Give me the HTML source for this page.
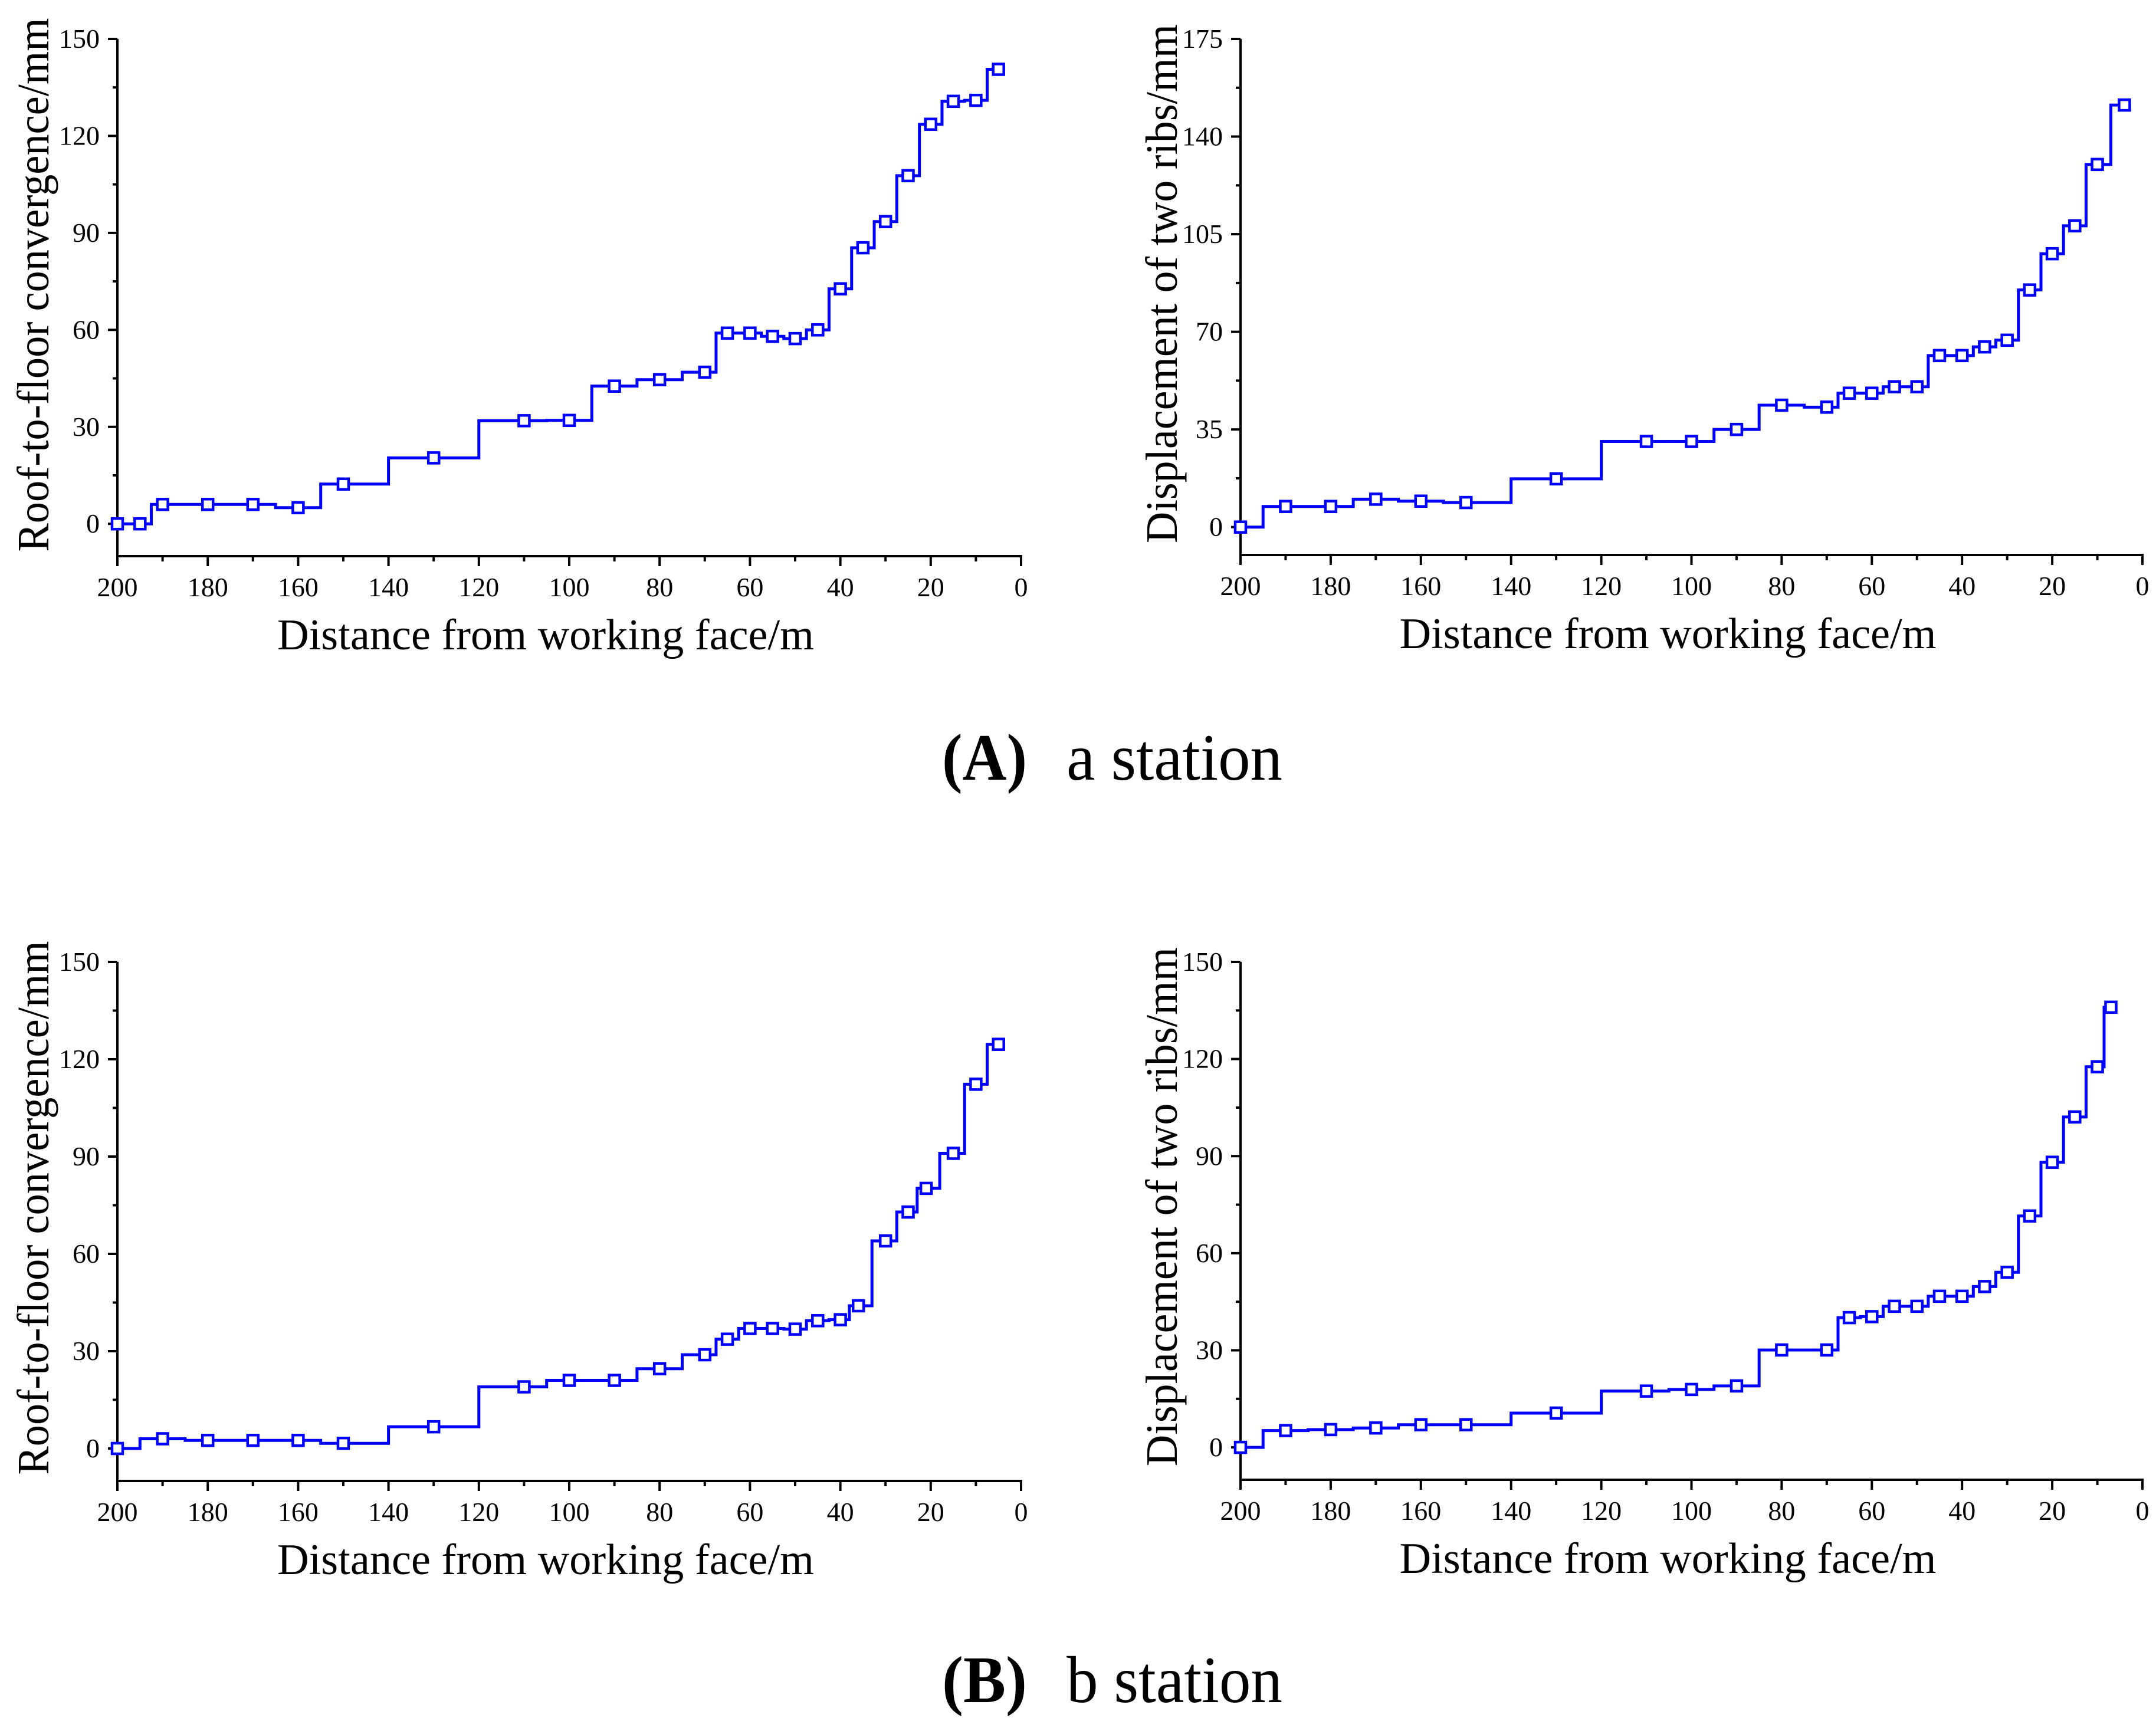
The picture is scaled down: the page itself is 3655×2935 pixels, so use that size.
<!DOCTYPE html>
<html><head><meta charset="utf-8"><style>
html,body{margin:0;padding:0;background:#fff;}
svg{display:block;}
text{font-family:"Liberation Serif",serif;fill:#000;}
</style></head>
<body>
<svg id="fig" width="3655" height="2935" viewBox="0 0 3655 2935" xmlns="http://www.w3.org/2000/svg">
<rect width="3655" height="2935" fill="#fff"/>
<text x="1597" y="1322" font-size="112" font-weight="bold" textLength="144" lengthAdjust="spacingAndGlyphs">(A)</text>
<text x="1808" y="1322" font-size="112" textLength="366" lengthAdjust="spacingAndGlyphs">a station</text>
<text x="1597" y="2886" font-size="112" font-weight="bold" textLength="144" lengthAdjust="spacingAndGlyphs">(B)</text>
<text x="1808" y="2886" font-size="112" textLength="366" lengthAdjust="spacingAndGlyphs">b station</text>
</svg>
<script>
const aConvX = [200,195,190,180,170,160,150,130,110,100,90,80,70,65,60,55,50,45,40,35,30,25,20,15,10,5];
const aConvY = [0,0,6,6,6,5,12.3,20.4,31.9,32,42.6,44.6,46.9,59,59,58,57.3,60,72.7,85.4,93.5,107.7,123.6,130.7,131,140.6];
const aRibX = [200,190,180,170,160,150,130,110,100,90,80,70,65,60,55,50,45,40,35,30,25,20,15,10,4];
const aRibY = [0,7.4,7.4,10,9.3,8.8,17.3,30.7,30.7,35,43.7,43,48,48,50.3,50.3,61.5,61.5,64.6,67,85,98,108,130,151.3];
const bConvX = [200,190,180,170,160,150,130,110,100,90,80,70,65,60,55,50,45,40,36,30,25,21,15,10,5];
const bConvY = [0,3,2.5,2.5,2.5,1.6,6.7,19,21,21,24.6,28.9,33.7,37,37,36.8,39.4,39.7,44,64,72.9,80.2,91,112.3,124.6];
const bRibX = [200,190,180,170,160,150,130,110,100,90,80,70,65,60,55,50,45,40,35,30,25,20,15,10,7];
const bRibY = [0,5.2,5.5,6,7,7,10.6,17.4,17.9,19,30.1,30.1,40.1,40.4,43.6,43.6,46.7,46.7,49.7,54.1,71.5,88.1,102.1,117.6,136];
const xTicks = [200,180,160,140,120,100,80,60,40,20,0];
const convTicks = [0,30,60,90,120,150];
const ribTicksA = [0,35,70,105,140,175];
const ribTicksB = [0,30,60,90,120,150];

const NS = "http://www.w3.org/2000/svg";
const svg = document.getElementById('fig');
function mk(tag, attrs, parent){
  const e = document.createElementNS(NS, tag);
  for (const k in attrs) e.setAttribute(k, attrs[k]);
  (parent||svg).appendChild(e);
  return e;
}
function chart(cfg){
  const g = mk('g', {});
  
  
  const sx = v => cfg.x0 + (200 - v) / 200 * (cfg.x1 - cfg.x0);
  const sy = v => cfg.yBase - (v - cfg.ymin) / (cfg.ymax - cfg.ymin) * (cfg.yBase - cfg.yTop);
  const ya = mk('line', {x1:cfg.x0, y1:cfg.yTop, x2:cfg.x0, y2:cfg.yBase+2, stroke:'#000','stroke-width':4}, g);
  
  
  const xa = mk('line', {x1:cfg.x0-2, y1:cfg.yBase, x2:cfg.x1+2, y2:cfg.yBase, stroke:'#000','stroke-width':4}, g);
  
  
  for (let v = 200; v >= 0; v -= 10){
    const major = v % 20 === 0;
    mk('line', {x1:sx(v), y1:cfg.yBase, x2:sx(v), y2:cfg.yBase + (major?17:9), stroke:'#000','stroke-width':4}, g);
  }
  xTicks.forEach(v => {
    const t = mk('text', {x:sx(v), y:cfg.yBase+68, 'font-size':46, 'text-anchor':'middle'}, g);
    
    
    t.textContent = v;
  });
  const step = cfg.yt[1] - cfg.yt[0];
  for (let i = 0; i < cfg.yt.length; i++){
    const v = cfg.yt[i];
    mk('line', {x1:cfg.x0-16, y1:sy(v), x2:cfg.x0, y2:sy(v), stroke:'#000','stroke-width':4}, g);
    if (i < cfg.yt.length-1) mk('line', {x1:cfg.x0-8, y1:sy(v+step/2), x2:cfg.x0, y2:sy(v+step/2), stroke:'#000','stroke-width':4}, g);
    const t = mk('text', {x:cfg.x0-30, y:sy(v)+15, 'font-size':46, 'text-anchor':'end'}, g);
    
    
    t.textContent = v;
  }
  const xt = mk('text', {x:(cfg.x0+cfg.x1)/2 - 40, y:cfg.yBase+158, 'font-size':74, 'text-anchor':'middle', textLength:910, lengthAdjust:'spacingAndGlyphs'}, g);
  
  
  xt.textContent = 'Distance from working face/m';
  const yt = mk('text', {x:0, y:0, 'font-size':76, 'text-anchor':'middle', textLength:cfg.ytLen, lengthAdjust:'spacingAndGlyphs', transform:`translate(${cfg.ytX},${cfg.ytY}) rotate(-90)`}, g);
  
  
  yt.textContent = cfg.ytitle;
  const X = cfg.xs, Y = cfg.ys;
  let d = `M${sx(X[0])},${sy(Y[0])}`;
  for (let i = 1; i < X.length; i++){
    const m = sx((X[i-1]+X[i])/2);
    d += ` H${m} V${sy(Y[i])}`;
  }
  d += ` H${sx(X[X.length-1])}`;
  const p = mk('path', {d:d, fill:'none', stroke:'#0000ff', 'stroke-width':5}, g);
  
  
  for (let i = 0; i < X.length; i++){
    const r = mk('rect', {x:sx(X[i])-9, y:sy(Y[i])-9, width:18, height:18, fill:'#fff', stroke:'#0000ff', 'stroke-width':4.5}, g);
    
    
  }
}
chart({name:'chart-a-roof-floor', x0:199, x1:1731, yTop:66, yBase:943, ymin:-10, ymax:150, yt:convTicks, xs:aConvX, ys:aConvY, ytitle:'Roof-to-floor convergence/mm', ytX:82, ytY:483, ytLen:905});
chart({name:'chart-a-two-ribs', x0:2103, x1:3632, yTop:66, yBase:941, ymin:-10, ymax:175, yt:ribTicksA, xs:aRibX, ys:aRibY, ytitle:'Displacement of two ribs/mm', ytX:1995, ytY:481, ytLen:880});
chart({name:'chart-b-roof-floor', x0:199, x1:1731, yTop:1631, yBase:2511, ymin:-10, ymax:150, yt:convTicks, xs:bConvX, ys:bConvY, ytitle:'Roof-to-floor convergence/mm', ytX:82, ytY:2048, ytLen:905});
chart({name:'chart-b-two-ribs', x0:2103, x1:3632, yTop:1631, yBase:2509, ymin:-10, ymax:150, yt:ribTicksB, xs:bRibX, ys:bRibY, ytitle:'Displacement of two ribs/mm', ytX:1995, ytY:2046, ytLen:880});
</script>
</body></html>
